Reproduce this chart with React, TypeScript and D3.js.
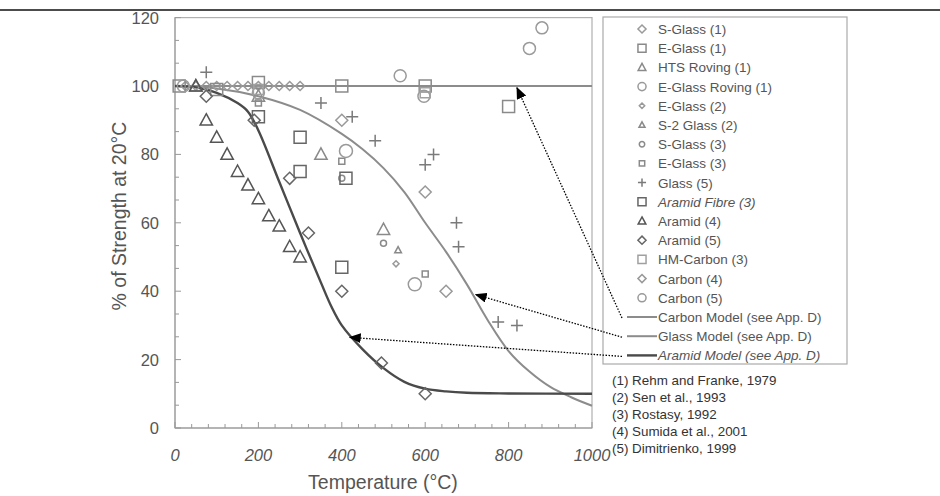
import * as d3 from "d3";
import { useEffect } from "react";

// --- data ---
const xTicks = [0, 200, 400, 600, 800, 1000];
const yTicks = [0, 20, 40, 60, 80, 100, 120];

const sGlass1 = [[25, 100], [50, 100], [75, 100], [100, 100], [125, 100], [150, 100], [175, 100], [200, 100], [225, 100], [250, 100], [275, 100], [300, 100]];
const eGlass1 = [[10, 100], [100, 99], [200, 101], [400, 100], [600, 100], [800, 94]];
const htsRoving1 = [[50, 100], [200, 97], [350, 80], [500, 58]];
const eGlassRoving1 = [[20, 100], [200, 98], [540, 103], [597, 97], [850, 111], [880, 117]];
const eGlass2 = [[530, 48]];
const s2Glass2 = [[535, 52]];
const sGlass3 = [[400, 73], [500, 54]];
const eGlass3 = [[200, 95], [400, 78], [600, 45]];
const glass5 = [[75, 104], [350, 95], [425, 91], [480, 84], [600, 77], [620, 80], [675, 60], [680, 53], [775, 31], [820, 30]];
const aramidFibre3 = [[200, 91], [300, 85], [300, 75], [410, 73], [400, 47]];
const aramid4 = [[50, 100], [75, 90], [100, 85], [125, 80], [150, 75], [175, 71], [200, 67], [225, 62], [250, 59], [275, 53], [300, 50]];
const aramid5 = [[75, 97], [190, 90], [275, 73], [320, 57], [400, 40], [495, 19], [600, 10]];
const hmCarbon3 = [[200, 99], [600, 98]];
const carbon4 = [[400, 90], [600, 69], [650, 40]];
const carbon5 = [[410, 81], [575, 42]];

const carbonModel = [[0, 100], [1000, 100]];
const glassModel = [[0, 100], [100, 99.3], [200, 97], [300, 93], [400, 86], [450, 81.5], [500, 76], [550, 69], [600, 60], [650, 51.5], [700, 42], [750, 31.5], [800, 22.5], [850, 16.5], [900, 12], [950, 9], [1000, 6.5]];
const aramidModel = [[0, 100], [50, 99.6], [100, 98], [150, 95], [175, 92.5], [200, 87], [250, 72], [300, 57], [350, 42.5], [375, 35.5], [400, 30], [450, 23], [500, 17.5], [550, 13.5], [600, 11.5], [650, 10.7], [700, 10.3], [800, 10.1], [1000, 10]];

const references = ["(1) Rehm and Franke, 1979", "(2) Sen et al., 1993", "(3) Rostasy, 1992", "(4) Sumida et al., 2001", "(5) Dimitrienko, 1999"];

const series = [
  { name: "S-Glass (1)", data: sGlass1, shape: "diamond", size: 4.5, color: "#9a9a9a" },
  { name: "E-Glass (1)", data: eGlass1, shape: "square", size: 6, color: "#8a8a8a" },
  { name: "HTS Roving (1)", data: htsRoving1, shape: "triangle", size: 6.5, color: "#8a8a8a" },
  { name: "E-Glass Roving (1)", data: eGlassRoving1, shape: "circle", size: 6, color: "#9a9a9a" },
  { name: "E-Glass (2)", data: eGlass2, shape: "diamond", size: 3, color: "#9a9a9a" },
  { name: "S-2 Glass (2)", data: s2Glass2, shape: "triangle", size: 3.5, color: "#8a8a8a" },
  { name: "S-Glass (3)", data: sGlass3, shape: "circle", size: 3, color: "#8a8a8a" },
  { name: "E-Glass (3)", data: eGlass3, shape: "square", size: 3, color: "#8a8a8a" },
  { name: "Glass (5)", data: glass5, shape: "plus", size: 6, color: "#7a7a7a" },
  { name: "Aramid Fibre (3)", data: aramidFibre3, shape: "square", size: 6, color: "#666", italic: true },
  { name: "Aramid (4)", data: aramid4, shape: "triangle", size: 6.5, color: "#555" },
  { name: "Aramid (5)", data: aramid5, shape: "diamond", size: 6, color: "#666" },
  { name: "HM-Carbon (3)", data: hmCarbon3, shape: "square", size: 5, color: "#a0a0a0" },
  { name: "Carbon (4)", data: carbon4, shape: "diamond", size: 6, color: "#999" },
  { name: "Carbon (5)", data: carbon5, shape: "circle", size: 6.5, color: "#999" },
];

const models = [
  { name: "Carbon Model (see App. D)", data: carbonModel, color: "#8c8c8c", width: 2, target: [820, 99.5] },
  { name: "Glass Model (see App. D)", data: glassModel, color: "#8c8c8c", width: 2, target: [721, 39] },
  { name: "Aramid Model (see App. D)", data: aramidModel, color: "#4a4a4a", width: 2.4, target: [419, 26.5], italic: true },
];

const width = 940;
const height = 496;
const plot = { left: 175, right: 592, top: 17.6, bottom: 428 };

function markerPath(shape: string, r: number) {
  if (shape === "square") return `M${-r},${-r}H${r}V${r}H${-r}Z`;
  if (shape === "diamond") return `M0,${-r}L${r},0L0,${r}L${-r},0Z`;
  if (shape === "triangle") return `M0,${-r}L${r * 0.95},${r * 0.75}L${-r * 0.95},${r * 0.75}Z`;
  if (shape === "plus") return `M${-r},0H${r}M0,${-r}V${r}`;
  return `M${r},0A${r},${r} 0 1,1 ${-r},0A${r},${r} 0 1,1 ${r},0Z`;
}

export default function App() {
  useEffect(() => {
    document.body.style.margin = "0";
  }, []);

  const x = d3.scaleLinear().domain([0, 1000]).range([plot.left, plot.right]);
  const y = d3.scaleLinear().domain([0, 120]).range([plot.bottom, plot.top]);
  const line = d3.line<number[]>().x(d => x(d[0])).y(d => y(d[1])).curve(d3.curveCatmullRom.alpha(0.5));

  const xMinor = d3.range(0, 1001, 40);
  const yMinor = d3.range(0, 121, 20 / 3);

  const legX = 603, legY = 17, legW = 244, legH = 347;
  const rowH = 19.2;
  const row0 = 29;

  return (
    <svg width={width} height={height} style={{ display: "block", background: "#fff" }} fontFamily="Liberation Sans, Arial, sans-serif">
      <defs>
        <marker id="ah" viewBox="0 0 12 10" refX="11" refY="5" markerWidth="12" markerHeight="10" markerUnits="userSpaceOnUse" orient="auto">
          <path d="M0,0L12,5L0,10Z" fill="#000" />
        </marker>
      </defs>
      <line x1={0} x2={width} y1={10} y2={10} stroke="#111" strokeWidth={1.5} />

      {/* frame */}
      <rect x={plot.left} y={plot.top} width={plot.right - plot.left} height={plot.bottom - plot.top} fill="none" stroke="#b0b0b0" strokeWidth={1.2} />
      <line x1={plot.left} x2={plot.left} y1={plot.top} y2={plot.bottom} stroke="#999" />
      <line x1={plot.left} x2={plot.right} y1={plot.bottom} y2={plot.bottom} stroke="#999" />
      {xMinor.map(t => (
        <line key={"xm" + t} x1={x(t)} x2={x(t)} y1={plot.bottom} y2={plot.bottom - (t % 200 === 0 ? 6 : 4)} stroke="#999" />
      ))}
      {yMinor.map((t, i) => (
        <line key={"ym" + i} x1={plot.left} x2={plot.left + (i % 3 === 0 ? 6 : 4)} y1={y(t)} y2={y(t)} stroke="#999" />
      ))}
      {xTicks.map(t => (
        <text key={"xt" + t} x={x(t)} y={461} textAnchor="middle" fontSize={16.5} fontStyle="italic" fill="#555">{t}</text>
      ))}
      {yTicks.map(t => (
        <text key={"yt" + t} x={159} y={y(t) + 6} textAnchor="end" fontSize={16.5} fill="#555">{t}</text>
      ))}
      <text x={383} y={489} textAnchor="middle" fontSize={19.5} fill="#555">Temperature (°C)</text>
      <text transform="translate(126,216) rotate(-90)" textAnchor="middle" fontSize={19.5} fill="#555">% of Strength at 20°C</text>

      {/* models */}
      {models.map(m => (
        <path key={m.name} d={line(m.data) || ""} fill="none" stroke={m.color} strokeWidth={m.width} />
      ))}

      {/* points */}
      {series.map(s => (
        <g key={s.name}>
          {s.data.map((d, i) => (
            <path key={i} transform={`translate(${x(d[0])},${y(d[1])})`} d={markerPath(s.shape, s.size)} fill="none" stroke={s.color} strokeWidth={1.5} />
          ))}
        </g>
      ))}

      {/* legend */}
      <rect x={legX} y={legY} width={legW} height={legH} fill="#fff" stroke="#aaa" strokeWidth={1.2} />
      {series.map((s, i) => (
        <g key={"lg" + s.name} transform={`translate(0,${row0 + i * rowH})`}>
          <path transform="translate(642,0)" d={markerPath(s.shape, Math.min(s.size, 4.5) * 0.9)} fill="none" stroke={s.color} strokeWidth={1.5} />
          <text x={658} y={5} fontSize={13.5} fill="#555" fontStyle={s.italic ? "italic" : "normal"}>{s.name}</text>
        </g>
      ))}
      {models.map((m, i) => {
        const yy = row0 + (series.length + i) * rowH;
        return (
          <g key={"lm" + m.name}>
            <line x1={627} x2={657} y1={yy} y2={yy} stroke={m.color} strokeWidth={m.width} />
            <text x={658} y={yy + 5} fontSize={13.5} fill="#555" fontStyle={m.italic ? "italic" : "normal"}>{m.name}</text>
            <line x1={622} y1={yy + 1} x2={x(m.target[0])} y2={y(m.target[1])} stroke="#000" strokeWidth={1.3} strokeDasharray="1.5,1.5" markerEnd="url(#ah)" />
          </g>
        );
      })}

      {/* references */}
      {references.map((r, i) => (
        <text key={r} x={612} y={385 + i * 17} fontSize={13.4} fill="#333">{r}</text>
      ))}
    </svg>
  );
}
